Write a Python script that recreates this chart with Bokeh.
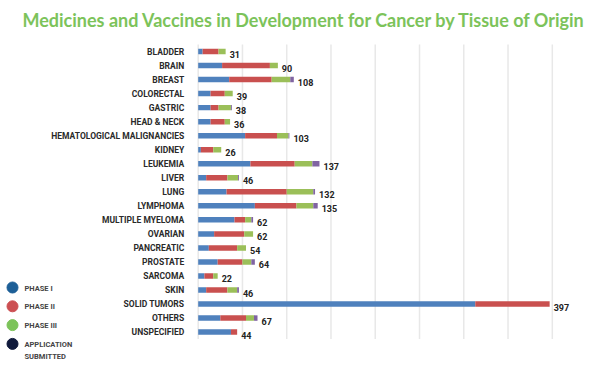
from bokeh.plotting import figure
from bokeh.models import ColumnDataSource, Range1d, Label
from bokeh.core.properties import value
from bokeh.embed import file_html
from bokeh.resources import INLINE

categories = ["BLADDER", "BRAIN", "BREAST", "COLORECTAL", "GASTRIC", "HEAD & NECK",
              "HEMATOLOGICAL MALIGNANCIES", "KIDNEY", "LEUKEMIA", "LIVER", "LUNG",
              "LYMPHOMA", "MULTIPLE MYELOMA", "OVARIAN", "PANCREATIC", "PROSTATE",
              "SARCOMA", "SKIN", "SOLID TUMORS", "OTHERS", "UNSPECIFIED"]
phase1 = [5, 27, 35, 14, 14, 14, 53, 3, 59, 9, 32, 64, 41, 18, 12, 22, 7, 9, 313, 25, 37]
phase2 = [18, 54, 48, 16, 9, 16, 36, 14, 50, 24, 68, 47, 12, 34, 32, 28, 10, 24, 84, 29, 7]
phase3 = [8, 9, 21, 9, 14, 6, 13, 9, 20, 12, 30, 19, 7, 10, 10, 10, 5, 11, 0, 9, 0]
submitted = [0, 0, 4, 0, 1, 0, 1, 0, 8, 1, 2, 5, 2, 0, 0, 4, 0, 2, 0, 4, 0]
totals = [31, 90, 108, 39, 38, 36, 103, 26, 137, 46, 132, 135, 62, 62, 54, 64, 22, 46, 397, 67, 44]
series_names = ["PHASE I", "PHASE II", "PHASE III", "APPLICATION\nSUBMITTED"]
grid_ticks = [0, 50, 100, 150, 200, 250, 300, 350, 400]

bar_colors = ["#4f81bd", "#c9504f", "#9bbf59", "#8064a2"]
legend_colors = ["#1d5f97", "#cc4f52", "#7cc35a", "#101a3c"]
FONT = "Roboto"

W, H = 600, 365
# pixel layout of the plotting area inside the canvas
ORIGIN_PX = 197.7          # x pixel of value 0
PX_PER_UNIT = 354.1 / 400  # horizontal scale
ROW0_PX = 51.0             # y pixel of first row centre
ROW_PX = 14.03             # row spacing
# legend layout (pixels)
LEG_MARK_X, LEG_TEXT_X, LEG_Y0, LEG_PITCH = 12.0, 24.0, 287.0, 18.8


def px_to_x(px):
    return (px - ORIGIN_PX) / PX_PER_UNIT


def px_to_y(py):
    return (py - ROW0_PX) / ROW_PX


n = len(categories)
rows = list(range(n))
source = ColumnDataSource(dict(row=rows, cat=categories, p1=phase1, p2=phase2, p3=phase3,
                               sub=submitted, total=totals,
                               label=[str(t) for t in totals]))

p = figure(width=W, height=H, output_backend="svg", toolbar_location=None,
           x_range=Range1d(px_to_x(0), px_to_x(W)),
           y_range=Range1d(px_to_y(H), px_to_y(0)),
           min_border=0)
p.outline_line_color = None
p.axis.visible = False
p.grid.visible = False
p.background_fill_color = "white"
p.border_fill_color = "white"

# vertical grid lines
gsrc = ColumnDataSource(dict(x=grid_ticks, y0=[-0.5] * len(grid_ticks),
                             y1=[n - 0.5] * len(grid_ticks)))
p.segment(x0="x", x1="x", y0="y0", y1="y1", source=gsrc,
          line_color="#e8e8e8", line_width=1.5)

p.hbar_stack(["p1", "p2", "p3", "sub"], y="row", height=0.39, color=bar_colors,
             line_color=None, source=source)

# category labels
p.text(x=0, y="row", text="cat", source=source, x_offset=-14,
       text_font=value(FONT), text_font_style="bold", text_font_size="8.5px",
       text_color="#2a2a2a", text_baseline="middle", text_align="right")

# value labels
p.text(x="total", y="row", text="label", source=source, x_offset=4, y_offset=3,
       text_font=value(FONT), text_font_style="bold", text_font_size="9px",
       text_color="#222222", text_baseline="middle", text_align="left")

# legend: circle markers and labels
leg_y = [px_to_y(LEG_Y0 + i * LEG_PITCH) for i in range(len(series_names))]
lsrc = ColumnDataSource(dict(mx=[px_to_x(LEG_MARK_X)] * len(series_names),
                             tx=[px_to_x(LEG_TEXT_X)] * len(series_names),
                             y=leg_y, name=series_names, color=legend_colors))
p.scatter(x="mx", y="y", source=lsrc, marker="circle", size=11,
          fill_color="color", line_color="color")
p.text(x="tx", y="y", text="name", source=lsrc, y_offset=-4,
       text_font=value(FONT), text_font_style="bold", text_font_size="7.5px",
       text_color="#444444", text_baseline="top", text_align="left",
       text_line_height=1.35)

title = Label(x=304, y=H - 19.5, x_units="screen", y_units="screen",
              text="Medicines and Vaccines in Development for Cancer by Tissue of Origin",
              text_font="Lato", text_font_style="bold", text_font_size="18px",
              text_color="#7cc35a", text_align="center", text_baseline="alphabetic")
p.add_layout(title)

open("out.html", "w").write(file_html(p, INLINE))
